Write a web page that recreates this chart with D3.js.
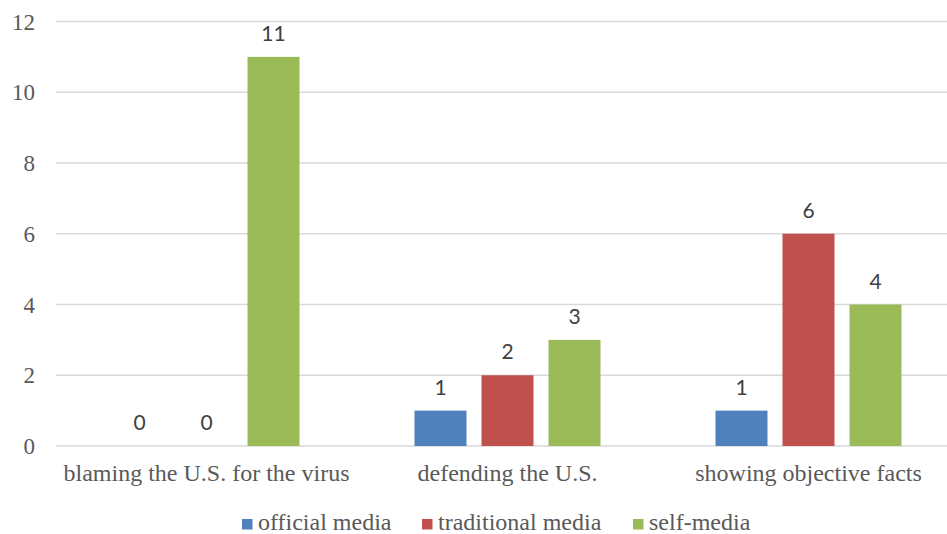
<!DOCTYPE html>
<html>
<head>
<meta charset="utf-8">
<script src="https://cdn.jsdelivr.net/npm/d3@7/dist/d3.min.js"></script>
<style>
  html, body { margin: 0; padding: 0; background: #fff; }
  svg { display: block; }
</style>
</head>
<body>
<svg id="chart" width="947" height="534"></svg>
<script>
// Stance of coverage by media type
const categories = ["blaming the U.S. for the virus", "defending the U.S.", "showing objective facts"];
const seriesNames = ["official media", "traditional media", "self-media"];
const officialMedia = [0, 1, 1];
const traditionalMedia = [0, 2, 6];
const selfMedia = [11, 3, 4];
const yTicks = [0, 2, 4, 6, 8, 10, 12];
const colors = ["#4F81BD", "#C0504D", "#9BBB59"];

const seriesValues = [officialMedia, traditionalMedia, selfMedia];

const SERIF = "Liberation Serif";
const SANS = "Lato";

const svg = d3.select("#chart");
const W = 947, H = 534;
const plotLeft = 56, plotRight = 959, plotTop = 21.5, plotBottom = 446;

const x0 = d3.scaleBand().domain(categories).range([plotLeft, plotRight]).padding(0);
const x1 = d3.scaleBand().domain(seriesNames).range([0, x0.bandwidth()])
  .paddingInner(15 / 67).paddingOuter(0.858);
const y = d3.scaleLinear().domain([0, 12]).range([plotBottom, plotTop]);

// Horizontal gridlines
svg.append("g").selectAll("line").data(yTicks).join("line")
  .attr("x1", plotLeft).attr("x2", W)
  .attr("y1", d => y(d)).attr("y2", d => y(d))
  .attr("stroke", "#d9d9d9").attr("stroke-width", 1.5);

// Y axis tick labels
const yAxis = d3.axisLeft(y).tickValues(yTicks).tickSize(0).tickPadding(0);
const gy = svg.append("g").attr("transform", `translate(35,0)`).call(yAxis);
gy.select(".domain").remove();
gy.attr("font-family", SERIF).attr("font-size", 23);
gy.selectAll("text")
  .style("font-family", SERIF).style("font-size", "23px")
  .attr("fill", "#595959").attr("dy", "0.33em");

// Category labels
const xAxis = d3.axisBottom(x0).tickSize(0).tickPadding(0);
const gx = svg.append("g").attr("transform", `translate(0,${plotBottom})`).call(xAxis);
gx.select(".domain").remove();
gx.attr("font-family", SERIF).attr("font-size", 24);
gx.selectAll("text")
  .style("font-family", SERIF).style("font-size", "24px")
  .attr("fill", "#595959").attr("dy", 0).attr("y", 35);

// Bars
const groups = svg.append("g").selectAll("g").data(categories).join("g")
  .attr("transform", d => `translate(${x0(d)},0)`);

groups.each(function(cat, ci) {
  const g = d3.select(this);
  const rows = seriesNames.map((s, si) => ({ s, si, v: seriesValues[si][ci] }));
  g.selectAll("rect").data(rows.filter(r => r.v > 0)).join("rect")
    .attr("x", r => x1(r.s))
    .attr("y", r => y(r.v))
    .attr("width", x1.bandwidth())
    .attr("height", r => y(0) - y(r.v))
    .attr("fill", r => colors[r.si]);
  g.selectAll("text").data(rows).join("text")
    .attr("x", r => x1(r.s) + x1.bandwidth() / 2)
    .attr("y", r => y(r.v) - 16)
    .attr("text-anchor", "middle")
    .style("font-family", SANS).style("font-size", "21px")
    .attr("fill", "#404040")
    .text(r => r.v);
});

// Legend
const legendX = [242, 422, 633];
const legend = svg.append("g").selectAll("g").data(seriesNames).join("g")
  .attr("transform", (d, i) => `translate(${legendX[i]},519)`);
legend.append("rect").attr("width", 10.5).attr("height", 10.5)
  .attr("fill", (d, i) => colors[i]);
legend.append("text").attr("x", 16).attr("y", 11)
  .style("font-family", SERIF).style("font-size", "24px")
  .attr("fill", "#595959")
  .text(d => d);
</script>
</body>
</html>
